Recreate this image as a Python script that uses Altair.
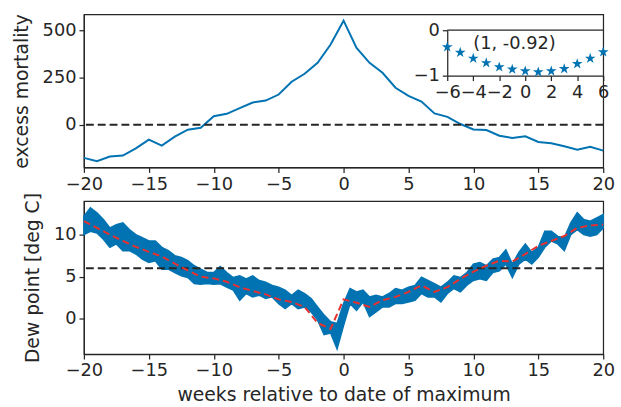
import altair as alt
import pandas as pd

BLUE = "#0173b2"
RED = "#e8312f"
INK = "#262626"
FONT = "DejaVu Sans"
STAR = ("M0,-1L0.2245,-0.309L0.951,-0.309L0.363,0.118L0.588,0.809L0,0.382"
        "L-0.588,0.809L-0.363,0.118L-0.951,-0.309L-0.2245,-0.309Z")

# ---- top panel: weekly excess mortality ----
weeks = list(range(-20, 21))
excess = [-175, -193, -168, -163, -125, -79, -110, -63, -26, -16,
          45, 58, 88, 118, 128, 160, 228, 270, 328, 425,
          551, 407, 328, 275, 196, 153, 123, 60, 42, 4,
          -25, -28, -58, -70, -61, -91, -98, -114, -132, -116, -137]

# ---- inset: correlation vs lag ----
lags = [-6, -5, -4, -3, -2, -1, 0, 1, 2, 3, 4, 5, 6]
corr = [-0.37, -0.49, -0.62, -0.72, -0.81, -0.86, -0.90, -0.92, -0.90, -0.85, -0.74, -0.62, -0.48]
annotation = "(1, -0.92)"

# ---- bottom panel: dew point (noisy band read as upper / lower envelope) ----
band_weeks = [w / 2 for w in range(-40, 41)]
dew_hi = [12.2, 13.2, 12.6, 11.8, 10.8, 11.2, 11.4, 10.6, 10.0, 9.65,
          9.25, 9.25, 8.5, 8.1, 7.5, 7.3, 6.9, 6.3, 5.9, 5.5,
          5.5, 6.2, 5.5, 4.9, 5.1, 4.75, 5.1, 4.55, 4.35, 3.96,
          3.76, 3.4, 2.8, 3.4, 3.0, 2.4, 1.4, 0.43, -0.35, -0.55,
          1.8, 3.6, 3.2, 3.4, 2.6, 2.8, 2.6, 3.0, 3.6, 3.4,
          3.76, 3.96, 4.94, 4.55, 4.16, 3.76, 4.35, 5.1, 4.9, 5.5,
          6.5, 6.7, 6.3, 7.1, 7.3, 8.2, 6.5, 7.9, 8.9, 7.9,
          8.5, 10.4, 10.4, 9.8, 9.65, 11.4, 12.6, 11.8, 11.6, 12.0, 12.4]
dew_lo = [10.0, 10.4, 10.2, 9.45, 8.5, 8.9, 8.1, 8.1, 7.7, 7.1,
          6.7, 6.9, 5.9, 5.9, 5.5, 5.1, 4.9, 4.2, 4.1, 4.2,
          4.1, 4.16, 3.76, 3.4, 2.2, 3.0, 2.6, 2.8, 2.4, 2.6,
          1.8, 1.2, 1.8, 1.2, 1.4, 0.8, -0.16, -1.9, -1.7, -3.6,
          -0.8, 1.8, 1.0, 2.0, 0.24, 0.8, 1.4, 1.4, 1.8, 1.8,
          2.0, 2.2, 3.0, 2.6, 2.6, 2.0, 3.0, 3.6, 3.2, 4.0,
          4.55, 4.75, 4.55, 5.5, 5.7, 6.5, 4.9, 6.5, 7.1, 6.5,
          7.3, 8.5, 9.25, 8.9, 8.1, 10.0, 10.6, 10.0, 9.8, 10.0, 10.8]

red_weeks = list(range(-20, 21))
dew_mean = [11.6, 10.8, 10.0, 9.25, 8.55, 7.96, 7.4, 6.55, 5.75, 5.0,
            4.8, 4.4, 3.76, 3.3, 2.9, 2.3, 2.0, 1.4, -0.5, -1.2,
            2.3, 1.9, 1.4, 2.2, 2.6, 3.2, 3.96, 3.2, 3.76, 4.75,
            5.6, 6.3, 6.9, 6.8, 7.7, 8.67, 9.25, 9.84, 10.8, 11.1, 11.2]

x_ticks = [-20, -15, -10, -5, 0, 5, 10, 15, 20]
top_y_ticks = [0, 250, 500]
bot_y_ticks = [0, 5, 10]
inset_x_ticks = [-6, -4, -2, 0, 2, 4, 6]
inset_y_ticks = [-1, 0]

W, H = 526, 155

top_df = pd.DataFrame({"week": weeks, "excess": excess})
inset_df = pd.DataFrame({"lag": lags, "corr": corr})
band_df = pd.DataFrame({"week": band_weeks, "lo": dew_lo, "hi": dew_hi})
red_df = pd.DataFrame({"week": red_weeks, "mean": dew_mean})

xs = alt.Scale(domain=[-20, 20], nice=False, zero=False)
top_ys = alt.Scale(domain=[-226, 584], nice=False, zero=False)
bot_ys = alt.Scale(domain=[-4.2, 14], nice=False, zero=False)
ixs = alt.Scale(domain=[-6, 6], range=[368, 526], nice=False, zero=False)
iys = alt.Scale(domain=[-1, 0], range=[62, 16], nice=False, zero=False)
ix_axis = alt.Axis(orient="bottom", offset=-93, values=inset_x_ticks, format="d", title=None)
iy_axis = alt.Axis(orient="left", offset=-368, values=inset_y_ticks, format="d", title=None)

top_line = alt.Chart(top_df).mark_line(color=BLUE, strokeWidth=2).encode(
    x=alt.X("week:Q", scale=xs, axis=alt.Axis(values=x_ticks, title=None)),
    y=alt.Y("excess:Q", scale=top_ys,
            axis=alt.Axis(values=top_y_ticks, title="excess mortality", titlePadding=11)),
)
top_rule = alt.Chart(pd.DataFrame({"y": [0]})).mark_rule(
    color=INK, strokeDash=[8, 4], strokeWidth=2).encode(y=alt.Y("y:Q", scale=top_ys))
main_layer = alt.layer(top_line, top_rule)

stars = alt.Chart(inset_df).mark_point(shape=STAR, filled=True, size=130, color=BLUE, opacity=1).encode(
    x=alt.X("lag:Q", scale=ixs, axis=ix_axis),
    y=alt.Y("corr:Q", scale=iys, axis=iy_axis),
)
inset_top = alt.Chart(pd.DataFrame({"x": [-6], "x2": [6], "y": [0]})).mark_rule(
    color=INK, strokeWidth=1.25).encode(
    x=alt.X("x:Q", scale=ixs, axis=ix_axis), x2="x2:Q", y=alt.Y("y:Q", scale=iys, axis=iy_axis))
ann = alt.Chart(pd.DataFrame({"x": [-4], "y": [-0.3], "t": [annotation]})).mark_text(
    align="left", baseline="middle", fontSize=18, font=FONT, color=INK).encode(
    x=alt.X("x:Q", scale=ixs, axis=ix_axis), y=alt.Y("y:Q", scale=iys, axis=iy_axis), text="t:N")
inset_layer = alt.layer(stars, inset_top, ann)

top = alt.layer(main_layer, inset_layer).resolve_scale(
    x="independent", y="independent").resolve_axis(
    x="independent", y="independent").properties(width=W, height=H)

band = alt.Chart(band_df).mark_area(color=BLUE, opacity=1, stroke=BLUE, strokeWidth=1.5).encode(
    x=alt.X("week:Q", scale=xs,
            axis=alt.Axis(values=x_ticks, title="weeks relative to date of maximum", titlePadding=6)),
    y=alt.Y("lo:Q", scale=bot_ys,
            axis=alt.Axis(values=bot_y_ticks, title="Dew point [deg C]", titlePadding=11)),
    y2="hi:Q",
)
bot_rule = alt.Chart(pd.DataFrame({"y": [6]})).mark_rule(
    color=INK, strokeDash=[8, 4], strokeWidth=2).encode(y=alt.Y("y:Q", scale=bot_ys))
red_line = alt.Chart(red_df).mark_line(color=RED, strokeDash=[7, 4], strokeWidth=2).encode(
    x=alt.X("week:Q", scale=xs), y=alt.Y("mean:Q", scale=bot_ys))
bottom = alt.layer(band, bot_rule, red_line).properties(width=W, height=H)

chart = alt.vconcat(top, bottom, spacing=-3).properties(
    padding={"left": 12, "top": 10, "right": 5, "bottom": 0}
).configure_axis(
    labelFont=FONT, titleFont=FONT, labelFontSize=18, titleFontSize=19,
    labelColor=INK, titleColor=INK, titleFontWeight="normal",
    tickColor=INK, domainColor=INK, tickSize=5, tickWidth=1.25, domainWidth=1.25,
    grid=False, labelFlush=False, labelOverlap=False, labelPadding=3,
).configure_view(stroke=INK, strokeWidth=1.25)

chart.save("out.html", embed_options={"renderer": "svg", "actions": False})
